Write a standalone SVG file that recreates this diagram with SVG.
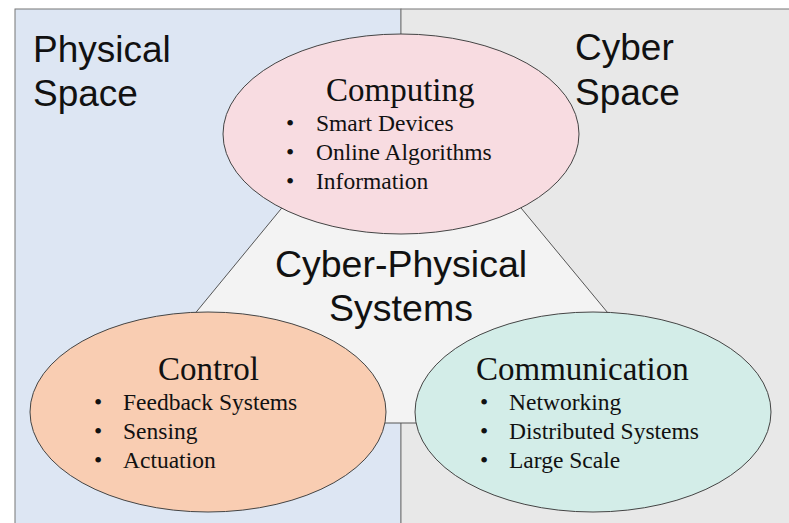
<svg xmlns="http://www.w3.org/2000/svg" width="789" height="523" viewBox="0 0 789 523">
<style>
.sans{font-family:"Liberation Sans",Arial,sans-serif;fill:#111}
.serif{font-family:"Liberation Serif","Times New Roman",serif;fill:#111}
.big{font-size:37px}
.title{font-size:33px}
.item{font-size:23.5px}
.ell{stroke:#444;stroke-width:1}
</style>
<rect width="789" height="523" fill="#ffffff"/>
<g id="background">
<rect x="15" y="9" width="386" height="520" fill="#dde6f3" stroke="#777" stroke-width="1"/>
<rect x="401" y="9" width="395" height="520" fill="#e8e8e8" stroke="#777" stroke-width="1"/>
<text class="sans big" x="33" y="62">Physical</text>
<text class="sans big" x="33" y="106">Space</text>
<text class="sans big" x="575" y="60">Cyber</text>
<text class="sans big" x="575" y="105">Space</text>
</g>
<g id="connectors">
<polygon id="cps-core" points="401,63 105,423 699,423" fill="#f3f3f3" stroke="#555" stroke-width="1"/>
</g>
<g id="cps">
<text class="sans" font-size="37.5" x="401" y="277" text-anchor="middle">Cyber-Physical</text>
<text class="sans" font-size="37.5" x="401" y="321" text-anchor="middle">Systems</text>
</g>
<g id="computing">
<ellipse class="ell" cx="401" cy="134" rx="178" ry="100" fill="#f8dce1"/>
<text class="serif title" x="326" y="101">Computing</text>
<g class="serif item">
<text x="286" y="131">•</text><text x="316" y="131">Smart Devices</text>
<text x="286" y="160">•</text><text x="316" y="160">Online Algorithms</text>
<text x="286" y="189">•</text><text x="316" y="189">Information</text>
</g>
</g>
<g id="control">
<ellipse class="ell" cx="208" cy="412" rx="178" ry="100" fill="#f9cdb2"/>
<text class="serif title" x="158" y="380">Control</text>
<g class="serif item">
<text x="94" y="410">•</text><text x="123" y="410">Feedback Systems</text>
<text x="94" y="439">•</text><text x="123" y="439">Sensing</text>
<text x="94" y="468">•</text><text x="123" y="468">Actuation</text>
</g>
</g>
<g id="communication">
<ellipse class="ell" cx="593" cy="412" rx="178" ry="100" fill="#d3ede8"/>
<text class="serif title" x="476" y="380">Communication</text>
<g class="serif item">
<text x="480" y="410">•</text><text x="509" y="410">Networking</text>
<text x="480" y="439">•</text><text x="509" y="439">Distributed Systems</text>
<text x="480" y="468">•</text><text x="509" y="468">Large Scale</text>
</g>
</g>
</svg>
